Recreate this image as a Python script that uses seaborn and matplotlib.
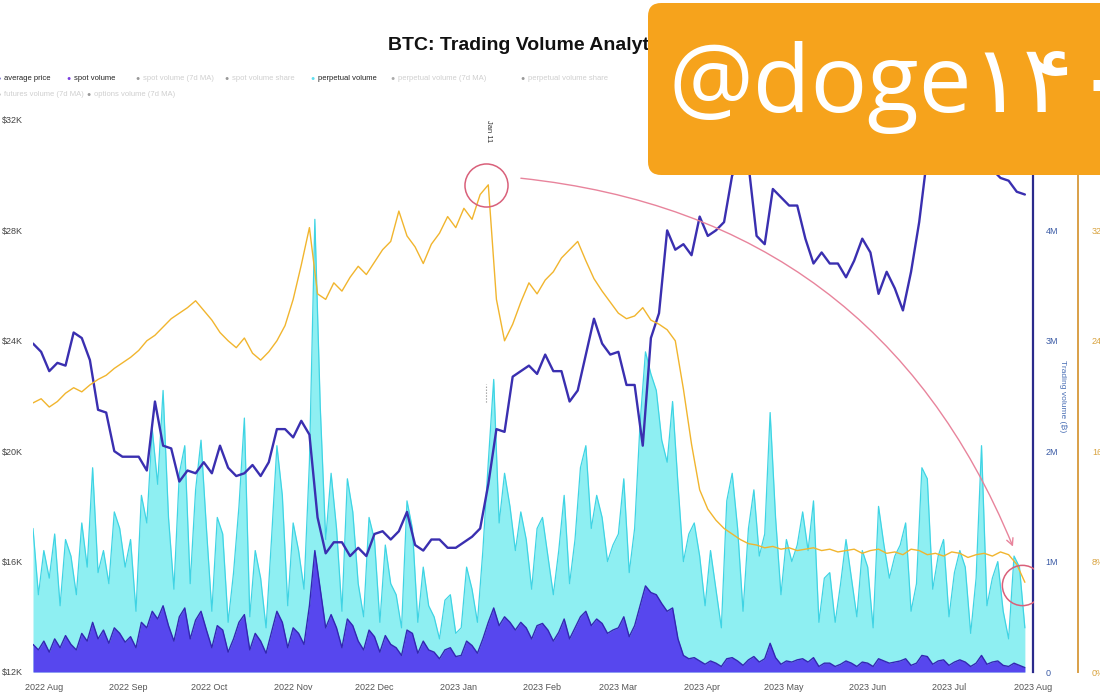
import pandas as pd
import numpy as np
import matplotlib.pyplot as plt
import matplotlib.dates as mdates
from matplotlib.patches import FancyBboxPatch
import seaborn as sns

# BTC price in $K, every 3 days from 2022-07-28
price_k = [23.9, 23.6,
           22.9, 23.2, 23.1, 24.3, 24.1, 23.3, 21.5, 21.4, 20.0, 19.8,
           19.8, 19.8, 19.3, 21.8, 20.2, 20.1, 18.9, 19.3, 19.2, 19.6,
           19.2, 20.2, 19.4, 19.1, 19.2, 19.5, 19.1, 19.6, 20.8, 20.8,
           20.5, 21.1, 20.6, 17.6, 16.3, 16.7, 16.7, 16.2, 16.5, 16.2,
           17.0, 17.1, 16.8, 17.1, 17.8, 16.6, 16.4, 16.8, 16.8, 16.5, 16.5,
           16.7, 16.9, 17.2, 18.8, 20.8, 20.7, 22.7, 22.9, 23.1, 22.8,
           23.5, 22.9, 22.9, 21.8, 22.2, 23.5, 24.8, 23.9, 23.5,
           23.6, 22.4, 22.4, 20.2, 24.1, 25.0, 28.0, 27.3, 27.5, 27.1, 28.5,
           27.8, 28.0, 28.3, 30.0, 30.3, 30.4, 27.8, 27.5, 29.5, 29.2,
           28.9, 28.9, 27.7, 26.8, 27.2, 26.8, 26.8, 26.3, 26.9, 27.7,
           27.2, 25.7, 26.5, 25.9, 25.1, 26.5, 28.3, 30.7, 30.3, 30.4,
           30.6, 30.5, 30.3, 30.6, 30.3, 30.2, 29.9, 29.8, 29.4, 29.3]

# spot share of volume in %, same dates as price
spot_share = [19.5, 19.8,
              19.2, 19.6, 20.2, 20.6, 20.3, 20.8, 21.2, 21.5, 22.0, 22.4,
              22.8, 23.3, 24.0, 24.4, 25.0, 25.6, 26.0, 26.4, 26.9, 26.2,
              25.5, 24.6, 24.0, 23.5, 24.2, 23.1, 22.6, 23.2, 24.0, 25.1,
              27.0, 29.5, 32.2, 27.4, 27.0, 28.2, 27.6, 28.6, 29.4, 28.8,
              29.7, 30.6, 31.2, 33.4, 31.6, 30.8, 29.6, 31.0, 31.8, 33.0, 32.2,
              33.6, 32.8, 34.6, 35.3, 27.0, 24.0, 25.2, 26.8, 28.2, 27.4,
              28.4, 29.0, 30.0, 30.6, 31.2, 29.8, 28.5, 27.6, 26.8,
              26.0, 25.6, 25.8, 26.4, 25.5, 25.2, 24.8, 24.0, 20.5, 16.5, 13.2,
              11.8, 11.0, 10.4, 10.0, 9.6, 9.3, 9.2, 9.0, 9.1, 8.9,
              9.0, 8.8, 8.9, 9.0, 8.8, 8.9, 8.7, 8.8, 8.9, 8.6,
              8.8, 8.9, 8.6, 8.7, 8.5, 8.9, 8.8, 8.5, 8.6, 8.4,
              8.7, 8.6, 8.3, 8.5, 8.6, 8.4, 8.7, 8.5, 7.8, 6.5]

# volumes in millions of BTC, every 2 days from 2022-07-28
perp_vol = [1.30, 0.70, 1.10, 0.85, 1.25, 0.60, 1.20, 1.05, 0.70, 1.35, 0.95, 1.85, 0.90, 1.10, 0.80, 1.45, 1.30, 0.95,
            1.20, 0.55, 1.60, 1.35, 2.20, 1.70, 2.55, 1.40, 0.75, 1.80, 2.05, 0.80, 1.65, 2.10, 1.30,
            0.55, 1.40, 1.25, 0.45, 0.90, 1.50, 2.30, 0.50, 1.10, 0.85, 0.40, 1.20, 2.05, 1.60, 0.60,
            1.35, 1.10, 0.75, 1.90, 4.10, 2.40, 1.20, 1.80, 1.30, 0.55, 1.75, 1.45, 0.80, 0.50, 1.40,
            1.20, 0.45, 1.15, 0.80, 0.70, 0.40, 1.55, 1.30, 0.45, 0.95, 0.60, 0.50, 0.30, 0.65, 0.70, 0.35,
            0.40, 0.95, 0.75, 0.45, 1.10, 1.90, 2.65, 1.35, 1.80, 1.50, 1.10, 1.45, 1.20, 0.75, 1.30,
            1.40, 1.05, 0.70, 1.10, 1.60, 0.80, 1.20, 1.85, 2.05, 1.30, 1.60, 1.40, 1.00, 1.15,
            1.25, 1.75, 0.90, 1.30, 2.25, 2.90, 2.70, 2.55, 2.10, 1.90, 2.45, 1.70, 1.00, 1.25, 1.35, 1.05,
            0.60, 1.10, 0.75, 0.40, 1.55, 1.80, 1.30, 0.55, 1.30, 1.65, 1.05, 1.25, 2.35, 1.40, 0.70,
            1.20, 1.00, 1.15, 1.45, 1.10, 1.55, 0.45, 0.85, 0.90, 0.45, 0.80, 1.20, 0.85, 0.50, 1.10,
            0.95, 0.40, 1.50, 1.15, 0.85, 1.05, 1.15, 1.35, 0.55, 0.80, 1.85, 1.75, 0.75, 1.05, 1.20,
            0.50, 0.90, 1.10, 0.95, 0.35, 0.85, 2.05, 0.60, 0.85, 1.00, 0.55, 0.30, 1.05, 0.95, 0.40]

spot_vol = [0.25, 0.20, 0.28, 0.18, 0.30, 0.22, 0.33, 0.25, 0.20, 0.35, 0.28, 0.45, 0.30, 0.38, 0.26, 0.40, 0.35, 0.27,
            0.32, 0.22, 0.45, 0.40, 0.55, 0.48, 0.60, 0.42, 0.28, 0.50, 0.58, 0.30, 0.47, 0.55, 0.38,
            0.22, 0.42, 0.38, 0.18, 0.30, 0.45, 0.52, 0.20, 0.35, 0.28, 0.17, 0.36, 0.55, 0.45, 0.22,
            0.40, 0.35, 0.25, 0.60, 1.10, 0.75, 0.40, 0.52, 0.40, 0.22, 0.48, 0.42, 0.28, 0.20, 0.38,
            0.32, 0.18, 0.33, 0.25, 0.22, 0.15, 0.38, 0.35, 0.17, 0.28, 0.20, 0.18, 0.12, 0.20, 0.22, 0.14,
            0.15, 0.28, 0.24, 0.17, 0.30, 0.45, 0.58, 0.42, 0.50, 0.45, 0.38, 0.45, 0.40, 0.30, 0.42,
            0.44, 0.38, 0.28, 0.36, 0.48, 0.30, 0.40, 0.50, 0.55, 0.42, 0.48, 0.44, 0.35, 0.38,
            0.40, 0.50, 0.32, 0.42, 0.60, 0.78, 0.72, 0.70, 0.62, 0.55, 0.58, 0.30, 0.15, 0.12, 0.13, 0.10,
            0.07, 0.10, 0.08, 0.05, 0.12, 0.13, 0.10, 0.06, 0.11, 0.14, 0.09, 0.12, 0.26, 0.13, 0.07,
            0.10, 0.09, 0.11, 0.12, 0.09, 0.13, 0.05, 0.08, 0.08, 0.05, 0.07, 0.10, 0.08, 0.05, 0.09,
            0.08, 0.05, 0.12, 0.10, 0.08, 0.09, 0.10, 0.12, 0.06, 0.08, 0.15, 0.14, 0.07, 0.10, 0.11,
            0.06, 0.09, 0.11, 0.09, 0.05, 0.08, 0.15, 0.07, 0.09, 0.10, 0.06, 0.05, 0.08, 0.06, 0.04]

price_ticks = [12, 16, 20, 24, 28, 32]
vol_ticks = [0, 1, 2, 3, 4]
vol_labels = ['0', '1M', '2M', '3M', '4M']
pct_ticks = [0, 8, 16, 24, 32]

legend_labels = ['average price', 'spot volume', 'spot volume (7d MA)', 'spot volume share',
                 'perpetual volume', 'perpetual volume (7d MA)', 'perpetual volume share',
                 'futures volume (7d MA)', 'options volume (7d MA)']
legend_active = [True, True, False, False, True, False, False, False, False]

price_dates = pd.date_range('2022-07-28', periods=len(price_k), freq='3D')
vol_dates = pd.date_range('2022-07-28', periods=len(perp_vol), freq='2D')

sns.set_theme(style='white')
plt.rcParams['font.family'] = ['Liberation Sans', 'DejaVu Sans']

fig = plt.figure(figsize=(11, 7), dpi=100)
ax = fig.add_axes([0.03, 0.04, 0.9091, 0.7886])

# volume areas
ax.fill_between(vol_dates, perp_vol, color='#8eeff2', lw=0, zorder=1)
sns.lineplot(x=vol_dates, y=perp_vol, ax=ax, color='#3fd4e4', lw=0.9, zorder=2)
ax.fill_between(vol_dates, spot_vol, color='#5747ee', lw=0, zorder=3)
sns.lineplot(x=vol_dates, y=spot_vol, ax=ax, color='#3326b2', lw=1.0, zorder=4)
ax.set_ylim(0, 5)
ax.set_xlim(pd.Timestamp('2022-07-28'), pd.Timestamp('2023-08-01'))

# price line
ax_price = ax.twinx()
sns.lineplot(x=price_dates, y=price_k, ax=ax_price, color='#3a2fb0', lw=1.7)
ax_price.set_ylim(12, 32)

# spot share line
ax_pct = ax.twinx()
sns.lineplot(x=price_dates, y=spot_share, ax=ax_pct, color='#f1b52e', lw=1.0)
ax_pct.set_ylim(0, 40)

# volume axis on the right (after twinx, which moves host ticks left)
ax.set_yticks(vol_ticks)
ax.set_yticklabels(vol_labels)
ax.yaxis.tick_right()
ax.yaxis.set_label_position('right')
ax.set_ylabel('Trading volume (₿)', color='#4a6fb5', fontsize=6, rotation=270, labelpad=6)
ax.tick_params(axis='y', colors='#3b5ba5', labelsize=6.5, length=0, pad=9)
ax.xaxis.set_major_locator(mdates.MonthLocator())
ax.xaxis.set_major_formatter(mdates.DateFormatter('%Y %b'))
ax.tick_params(axis='x', colors='#555555', labelsize=6.5, length=0, pad=8)
ax.set_xlabel('')
for s in ['left', 'top', 'bottom']:
    ax.spines[s].set_visible(False)
ax.spines['right'].set_color('#2b2a8c')
ax.spines['right'].set_linewidth(1.6)

# price axis on the left
ax_price.set_yticks(price_ticks)
ax_price.set_yticklabels(['$%dK' % v for v in price_ticks])
ax_price.yaxis.tick_left()
ax_price.tick_params(axis='y', colors='#444444', labelsize=6.5, length=0, pad=7)
ax_price.set_ylabel('')
for s in ax_price.spines.values():
    s.set_visible(False)

# percentage axis further right
ax_pct.set_yticks(pct_ticks)
ax_pct.set_yticklabels(['%d%%' % v for v in pct_ticks])
ax_pct.set_ylabel('')
ax_pct.spines['right'].set_position(('axes', 1.045))
ax_pct.spines['right'].set_color('#d9a048')
ax_pct.spines['right'].set_linewidth(1.4)
for s in ['left', 'top', 'bottom']:
    ax_pct.spines[s].set_visible(False)
ax_pct.tick_params(axis='y', colors='#d9a441', labelsize=6.5, length=0, pad=10)

# annotations
ax_pct.plot(pd.Timestamp('2023-01-11'), 35.3, marker='o', ms=31, mfc='none', mec='#d9607a', mew=1.1)
ax_pct.plot(pd.Timestamp('2023-07-28'), 6.3, marker='o', ms=29, mfc='none', mec='#d9607a', mew=1.1)
ax_pct.annotate('', xy=(pd.Timestamp('2023-07-25'), 8.9), xytext=(pd.Timestamp('2023-01-23'), 35.8),
                arrowprops=dict(arrowstyle='->', color='#e8849c', lw=1.0,
                                connectionstyle='arc3,rad=-0.3'))
ax_pct.text(pd.Timestamp('2023-01-12'), 39.2, 'Jan 11', rotation=270, fontsize=5.5,
            color='#333333', ha='center', va='center')
ax_pct.vlines(pd.Timestamp('2023-01-11'), 19.6, 20.9, colors='#888888', lw=0.8, linestyles=':')

# title and legend
fig.text(388 / 1100, 1 - 45 / 700, 'BTC: Trading Volume Analytics', fontsize=14,
         fontweight='bold', color='#111111', ha='left', va='center')
legend_pos = [(-4, 78), (66, 78), (135, 78), (224, 78), (310, 78), (390, 78), (520, 78),
              (-4, 95), (86, 95)]
legend_colors = ['#3a2fb0', '#7a3fe0', '#999999', '#999999', '#5fdff0', '#aaaaaa', '#999999',
                 '#aaaaaa', '#999999']
for lab, on, (px, py), c in zip(legend_labels, legend_active, legend_pos, legend_colors):
    fig.text(px / 1100, 1 - py / 700, '●', fontsize=5, color=c, ha='left', va='center')
    fig.text((px + 8) / 1100, 1 - py / 700, lab, fontsize=5.5,
             color='#222222' if on else '#cfcfcf', ha='left', va='center')

# watermark
fig.patches.append(FancyBboxPatch((648 / 1100, 1 - 175 / 700), 0.45, 172 / 700,
                                  boxstyle='round,pad=0,rounding_size=0.012',
                                  mutation_aspect=11 / 7, transform=fig.transFigure,
                                  facecolor='#f6a31c', edgecolor='none', zorder=10))
fig.text(668 / 1100, 1 - 112 / 700, '@doge۱۴۰', fontsize=68, color='white',
         family=['Open Sans', 'DejaVu Sans'], ha='left', va='baseline', zorder=11)

fig.savefig('out.png', dpi=100, facecolor='white')
